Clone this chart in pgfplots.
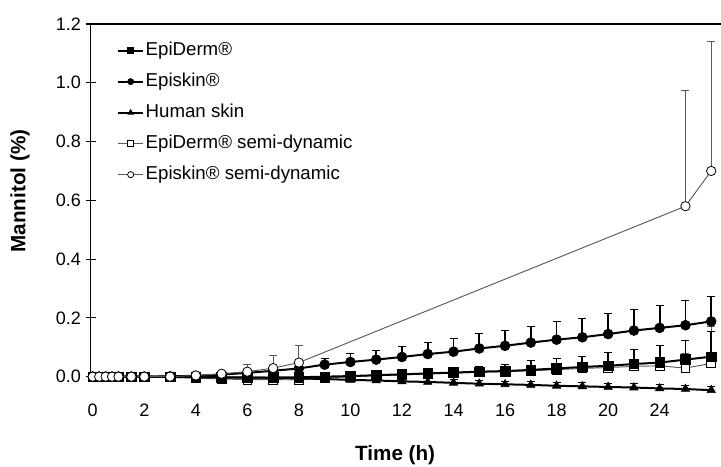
\documentclass[border=0pt]{standalone}
\usepackage{pgfplots}
\pgfplotsset{compat=1.18}
\usepackage{pgfplotstable}
\usepackage{fontspec}
\setmainfont{Liberation Sans}

\pgfplotstableread{
t v e
0 0 0.002
0.25 0 0.002
0.5 0 0.002
0.75 0 0.002
1 0 0.002
1.5 0 0.002
2 0 0.002
3 -0.001 0.003
4 -0.002 0.003
5 -0.003 0.004
6 -0.003 0.004
7 -0.003 0.005
8 -0.002 0.005
9 0.000 0.006
10 0.002 0.008
11 0.005 0.010
12 0.008 0.012
13 0.011 0.014
14 0.014 0.015
15 0.017 0.017
16 0.019 0.022
17 0.023 0.033
18 0.028 0.034
19 0.033 0.038
20 0.037 0.046
21 0.043 0.051
22 0.048 0.058
23 0.058 0.065
24 0.068 0.088
}\epiderm

\pgfplotstableread{
t v e
0 0 0.002
0.25 0 0.002
0.5 0 0.002
0.75 0 0.002
1 0 0.002
1.5 0 0.002
2 0 0.002
3 0.001 0.003
4 0.003 0.004
5 0.007 0.005
6 0.013 0.007
7 0.020 0.010
8 0.028 0.017
9 0.041 0.022
10 0.050 0.028
11 0.058 0.032
12 0.067 0.035
13 0.077 0.040
14 0.085 0.047
15 0.096 0.050
16 0.105 0.053
17 0.116 0.055
18 0.126 0.062
19 0.134 0.065
20 0.145 0.071
21 0.157 0.073
22 0.166 0.078
23 0.175 0.086
24 0.188 0.086
}\episkin

\pgfplotstableread{
t v e
0 0 0.002
0.25 0 0.002
0.5 0 0.002
0.75 0 0.002
1 0 0.002
1.5 0 0.002
2 0 0.002
3 0 0.003
4 0 0.003
5 -0.002 0.004
6 -0.003 0.005
7 -0.004 0.006
8 -0.006 0.007
9 -0.008 0.008
10 -0.011 0.009
11 -0.013 0.010
12 -0.016 0.010
13 -0.018 0.011
14 -0.021 0.011
15 -0.024 0.012
16 -0.026 0.012
17 -0.028 0.012
18 -0.031 0.013
19 -0.033 0.013
20 -0.035 0.013
21 -0.037 0.014
22 -0.040 0.014
23 -0.042 0.014
24 -0.046 0.015
}\human

\pgfplotstableread{
t v e
0 0 0.002
0.25 0 0.002
0.5 0 0.002
0.75 0 0.002
1 0 0.002
1.5 0 0.002
2 0 0.002
3 -0.002 0.003
4 -0.005 0.004
5 -0.008 0.004
6 -0.010 0.005
7 -0.010 0.005
8 -0.011 0.006
9 -0.005 0.006
10 0.000 0.007
11 0.003 0.008
12 0.006 0.009
13 0.009 0.010
14 0.012 0.011
15 0.015 0.012
16 0.017 0.013
17 0.020 0.015
18 0.024 0.017
19 0.028 0.019
20 0.031 0.021
21 0.035 0.023
22 0.037 0.025
23 0.029 0.050
24 0.045 0.127
}\epidermsemi

\pgfplotstableread{
t v e
0 0 0.002
0.25 0 0.002
0.5 0 0.002
0.75 0 0.002
1 0 0.002
1.5 0 0.002
2 0 0.002
3 0 0.003
4 0.004 0.004
5 0.010 0.008
6 0.017 0.026
7 0.029 0.045
8 0.048 0.058
23 0.580 0.395
24 0.700 0.440
}\episkinsemi

\pgfplotsset{
  filledser/.style={black, line width=1.5pt, mark size=3.5pt, mark options={solid, line width=0.5pt},
    error bars/error bar style={line width=1.3pt}},
  openser/.style={black!65, line width=0.7pt, mark size=3.5pt, mark options={solid, fill=white, draw=black, line width=0.6pt},
    error bars/error bar style={line width=0.7pt, black!65}},
}

\begin{document}
\begin{tikzpicture}
\begin{axis}[
  scale only axis,
  width=472.7pt, height=277.7pt,
  xmin=-0.08, xmax=24.38, ymin=-0.06, ymax=1.2,
  axis line style={draw=none},
  clip=false,
  xtick={0,2,4,6,8,10,12,14,16,18,20,22},
  xticklabels={0,2,4,6,8,10,12,14,16,18,20,24},
  xtick style={draw=none},
  ytick={0,0.2,0.4,0.6,0.8,1.0,1.2},
  yticklabel style={/pgf/number format/.cd, fixed, fixed zerofill, precision=1},
  ytick pos=left, xtick pos=bottom,
  tick align=center, major tick length=7.5pt,
  ytick style={line width=0.8pt, black},
  /pgf/number format/assume math mode=true,
  tick label style={font=\fontsize{13.5}{15}\selectfont},
  xlabel={Time (h)}, ylabel={Mannitol (\%)},
  every axis x label/.style={at={([yshift=-45.5pt]axis description cs:0.483,0)}, anchor=center, font=\fontsize{15.5}{17}\selectfont\bfseries},
  every axis y label/.style={at={([xshift=-53pt]axis description cs:0,0.549)}, rotate=90, anchor=center, font=\fontsize{15.5}{17}\selectfont\bfseries},
  legend style={draw=none, fill=none, at={(axis description cs:0.035,0.963)}, anchor=north west,
    font=\fontsize{14}{16}\selectfont, row sep=8.25pt, cells={anchor=west},
    nodes={inner sep=1pt, text height=10pt, text depth=3pt}},
  legend image code/.code={\draw[mark repeat=2,mark phase=2,#1,mark size=2.3pt] plot coordinates {(0pt,0pt)(9.5pt,0pt)(19pt,0pt)};},
  error bars/y dir=plus, error bars/y explicit,
  error bars/error mark options={rotate=90, mark size=3pt},
]
\addlegendimage{filledser, mark=square*}
\addlegendentry{EpiDerm®}
\addlegendimage{filledser, mark=*}
\addlegendentry{Episkin®}
\addlegendimage{filledser, mark=triangle*}
\addlegendentry{Human skin}
\addlegendimage{openser, mark=square*}
\addlegendentry{EpiDerm® semi-dynamic}
\addlegendimage{openser, mark=*}
\addlegendentry{Episkin® semi-dynamic}

\addplot[openser, mark=square*, mark size=3.3pt, forget plot]
  table[x=t, y=v, y error=e] {\epidermsemi};
\addplot[filledser, mark=square*, mark size=3.6pt, forget plot]
  table[x=t, y=v, y error=e] {\epiderm};
\addplot[filledser, mark=*, mark size=3.7pt, forget plot]
  table[x=t, y=v, y error=e] {\episkin};
\addplot[filledser, mark=triangle*, mark size=3.6pt, forget plot]
  table[x=t, y=v, y error=e] {\human};
\addplot[openser, mark=*, forget plot]
  table[x=t, y=v, y error=e] {\episkinsemi};
\draw[line width=0.8pt] (axis cs:-0.08,0) -- (axis cs:-0.08,1.2) -- (axis cs:24.38,1.2);
\end{axis}
\pgfresetboundingbox
\path ([shift={(-68pt,-54.5pt)}]current axis.south west) rectangle ([shift={(0pt,18pt)}]current axis.north east);
\end{tikzpicture}
\end{document}
